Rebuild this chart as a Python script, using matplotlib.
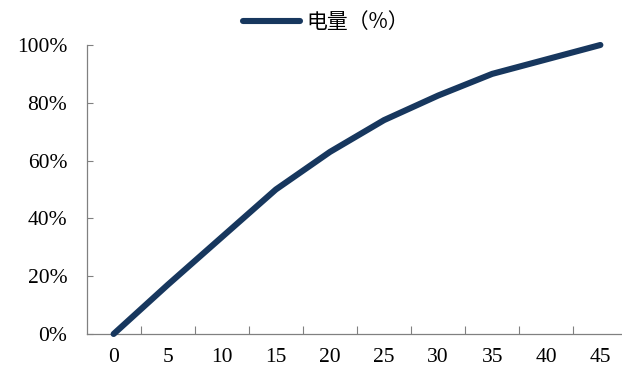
import matplotlib
matplotlib.use("Agg")
import matplotlib.pyplot as plt
from matplotlib.ticker import FuncFormatter

# Charging time (minutes) and state of charge (%)
minutes = [0, 5, 10, 15, 20, 25, 30, 35, 40, 45]
charge_pct = [0, 17, 33.5, 50, 63, 74, 82.5, 90, 95, 100]
y_ticks = [0, 20, 40, 60, 80, 100]
series_name = "电量（%）"

line_color = "#17375E"
axis_color = "#808080"

fig = plt.figure(figsize=(6.22, 3.72), dpi=100)
ax = fig.add_axes([0.1392, 0.1022, 0.8695, 0.7769])

x = list(range(len(minutes)))
ax.plot(x, charge_pct, color=line_color, lw=4.4, solid_capstyle="round",
        solid_joinstyle="round", label=series_name, clip_on=False, zorder=3)

ax.set_xlim(-0.5, len(minutes) - 0.5)
ax.set_ylim(0, 100)

# category axis: ticks sit between categories, labels at category centres
ax.set_xticks([i + 0.5 for i in range(len(minutes) - 1)])
ax.set_xticks(x, minor=True)
ax.set_xticklabels([str(m) for m in minutes], minor=True,
                   fontfamily="Liberation Serif", fontsize=15.5)
ax.tick_params(axis="x", which="major", direction="in", length=5.5,
               width=0.8, color=axis_color, labelbottom=False)
ax.tick_params(axis="x", which="minor", length=0, pad=10)

ax.set_yticks(y_ticks)
ax.yaxis.set_major_formatter(FuncFormatter(lambda v, p: f"{v:.0f}%"))
for lab in ax.get_yticklabels():
    lab.set_fontfamily("Liberation Serif")
    lab.set_fontsize(15.5)
ax.tick_params(axis="y", direction="in", length=4.5, width=0.8,
               color=axis_color, pad=14, labelsize=15.5)

for side in ("top", "right"):
    ax.spines[side].set_visible(False)
for side in ("left", "bottom"):
    ax.spines[side].set_color(axis_color)
    ax.spines[side].set_linewidth(0.9)

leg = fig.legend(loc="center", bbox_to_anchor=(326 / 622, 1 - 22 / 372),
                 frameon=False, handlelength=2.7, handletextpad=0.3,
                 prop={"family": ["Noto Sans CJK SC", "DejaVu Sans"], "size": 15})

fig.savefig("out.png", dpi=100)
